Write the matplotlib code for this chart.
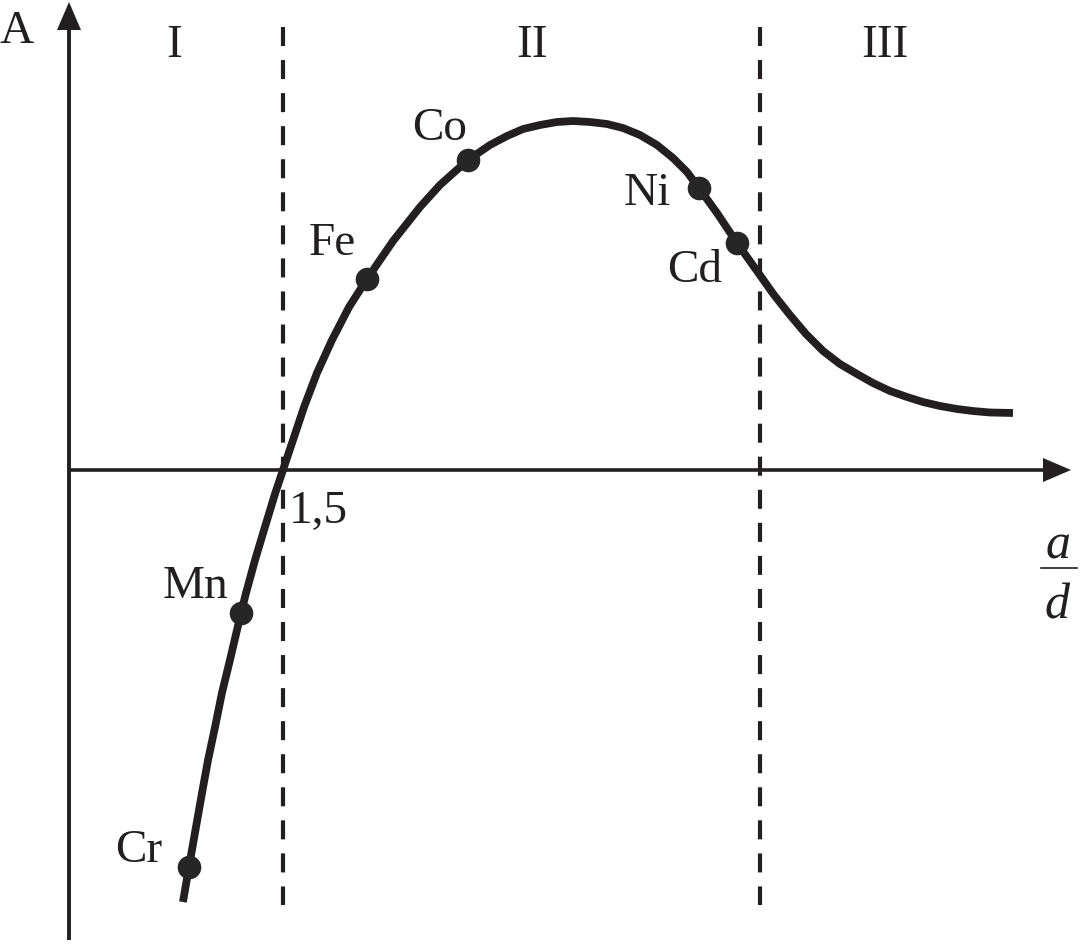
# To draw plots
import matplotlib
matplotlib.use('Agg')
import matplotlib.pyplot as plt

# Curve (x in a/d units, y in arbitrary A units)
curve_x = [0.795, 0.837, 0.886, 0.928, 0.970, 1.019, 1.067, 1.123, 1.200, 1.235,
           1.298, 1.367, 1.437, 1.493, 1.563, 1.640, 1.730, 1.835, 1.954, 2.079,
           2.261, 2.449, 2.588, 2.658, 2.784, 2.937, 3.056, 3.168, 3.286, 3.405,
           3.516, 3.635, 3.754, 3.865, 3.984, 4.102, 4.214, 4.312, 4.395, 4.521,
           4.661, 4.800, 4.919, 5.030, 5.142, 5.261, 5.379, 5.498, 5.609, 5.728,
           5.847, 5.958, 6.077, 6.196, 6.307, 6.426, 6.586]
curve_y = [-4.32, -3.97, -3.57, -3.23, -2.90, -2.57, -2.23, -1.90, -1.43, -1.23,
           -0.90, -0.57, -0.24, 0.00, 0.30, 0.63, 0.97, 1.30, 1.63, 1.91,
           2.29, 2.63, 2.85, 2.94, 3.10, 3.25, 3.34, 3.41, 3.45, 3.48,
           3.49, 3.48, 3.46, 3.42, 3.35, 3.25, 3.12, 2.98, 2.82, 2.57,
           2.27, 1.99, 1.75, 1.55, 1.36, 1.19, 1.06, 0.96, 0.87, 0.79,
           0.73, 0.68, 0.64, 0.61, 0.59, 0.575, 0.57]

# Elements marked on the curve
elements = ['Cr', 'Mn', 'Fe', 'Co', 'Ni', 'Cd']
elem_x = [0.837, 1.200, 2.079, 2.784, 4.395, 4.661]
elem_y = [-3.97, -1.43, 1.91, 3.10, 2.82, 2.27]

# Region borders and names
borders = [1.49, 4.82]
regions = ['I', 'II', 'III']
region_x = [0.73, 3.23, 5.69]

# Pixel -> data helpers (scale of the drawing)
XS = 143.33
YS = 100.0
X0 = 69
Y0 = 470


def px(x):
    return (x - X0) / XS


def py(y):
    return (Y0 - y) / YS


INK = '#231f20'
plt.rcParams['font.family'] = ['Liberation Serif', 'DejaVu Serif']
plt.rcParams['lines.scale_dashes'] = False

fig = plt.figure(figsize=(10.87, 9.44), dpi=100)
ax = fig.add_axes([0, 0, 1, 1])
ax.set_xlim(px(0), px(1087))
ax.set_ylim(py(944), py(0))
ax.axis('off')

# Axes with arrows
ax.plot([0, px(1045)], [0, 0], color=INK, lw=2.6, solid_capstyle='butt')
ax.arrow(px(1043), 0, 28 / XS, 0, width=0, head_width=24 / YS,
         head_length=28 / XS, length_includes_head=True, color=INK, lw=0)
ax.plot([0, 0], [py(940), py(28)], color=INK, lw=2.8, solid_capstyle='butt')
ax.arrow(0, py(30), 0, 28 / YS, width=0, head_width=24 / XS,
         head_length=28 / YS, length_includes_head=True, color=INK, lw=0)

# Dashed borders between regions
for b in borders:
    ax.plot([b, b], [py(27), py(905)], color=INK, lw=3.0,
            linestyle=(0, (13.7, 10.1)), dash_capstyle='butt')

# The curve and the element dots
ax.plot(curve_x, curve_y, color=INK, lw=5.6, solid_capstyle='butt',
        solid_joinstyle='round')
ax.plot(elem_x, elem_y, 'o', color='#262626', markersize=17, mew=0)

# Element labels (center x, baseline) in pixels
label_pos = {'Cr': (139, 862), 'Mn': (195, 598), 'Fe': (332, 255),
             'Co': (440, 140), 'Ni': (647, 205), 'Cd': (695, 282)}
for name in elements:
    lx, ly = label_pos[name]
    ax.text(px(lx), py(ly), name, fontsize=34, color=INK,
            ha='center', va='baseline')

for name, rx in zip(regions, region_x):
    ax.text(rx, py(57), name, fontsize=34, color=INK,
            ha='center', va='baseline')

ax.text(px(17), py(43), 'A', fontsize=34, color=INK, ha='center', va='baseline')
ax.text(px(318), py(523), '1,5', fontsize=34, color=INK, ha='center', va='baseline')

# a/d fraction label
ax.text(px(1058), py(558), 'a', fontsize=36, style='italic', color=INK,
        ha='center', va='baseline')
ax.plot([px(1041), px(1077)], [py(568), py(568)], color=INK, lw=1.2)
ax.text(px(1057), py(618), 'd', fontsize=36, style='italic', color=INK,
        ha='center', va='baseline')

plt.savefig('out.png', dpi=100)
